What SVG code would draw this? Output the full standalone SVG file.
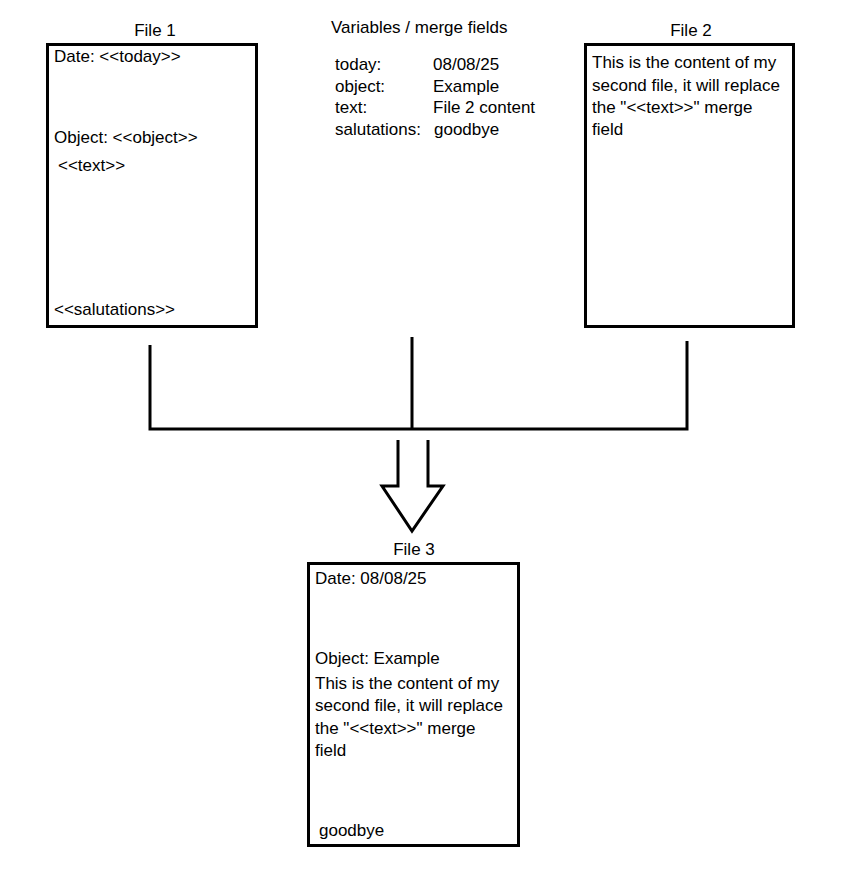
<svg xmlns="http://www.w3.org/2000/svg" width="842" height="889" viewBox="0 0 842 889">
<style>
text{font-family:"Liberation Sans",Arial,sans-serif;font-size:17px;fill:#000}
.t{text-anchor:middle}
.box{fill:#fff;stroke:#000;stroke-width:3}
.ln{fill:none;stroke:#000;stroke-width:3}
</style>
<rect width="842" height="889" fill="#fff"/>
<g id="file1">
<text class="t" x="155" y="36">File 1</text>
<rect class="box" x="47.5" y="44.5" width="209" height="282"/>
<text x="54" y="62">Date: &lt;&lt;today&gt;&gt;</text>
<text x="54" y="143">Object: &lt;&lt;object&gt;&gt;</text>
<text x="58" y="171">&lt;&lt;text&gt;&gt;</text>
<text x="54" y="315">&lt;&lt;salutations&gt;&gt;</text>
</g>
<g id="variables">
<text x="331" y="33">Variables / merge fields</text>
<text x="335" y="70">today:</text><text x="433" y="70">08/08/25</text>
<text x="335" y="92">object:</text><text x="433" y="92">Example</text>
<text x="335" y="113">text:</text><text x="433" y="113">File 2 content</text>
<text x="335" y="135">salutations:</text><text x="434" y="135">goodbye</text>
</g>
<g id="file2">
<text class="t" x="691" y="36">File 2</text>
<rect class="box" x="585.5" y="44.5" width="208" height="282"/>
<text x="592" y="68">This is the content of my</text>
<text x="592" y="91">second file, it will replace</text>
<text x="592" y="113">the "&lt;&lt;text&gt;&gt;" merge</text>
<text x="592" y="135">field</text>
</g>
<g id="connectors">
<path class="ln" d="M150,345 V429 H687 V341 M412,337 V429"/>
<path class="ln" stroke-width="2.5" d="M398,440 V486 H382 L412,531 L443,486 H428 V440"/>
</g>
<g id="file3">
<text class="t" x="414" y="555">File 3</text>
<rect class="box" x="308.5" y="563.5" width="210" height="282"/>
<text x="315" y="584">Date: 08/08/25</text>
<text x="315" y="664">Object: Example</text>
<text x="315" y="689">This is the content of my</text>
<text x="315" y="711">second file, it will replace</text>
<text x="315" y="734">the "&lt;&lt;text&gt;&gt;" merge</text>
<text x="315" y="756">field</text>
<text x="319" y="836">goodbye</text>
</g>
</svg>
